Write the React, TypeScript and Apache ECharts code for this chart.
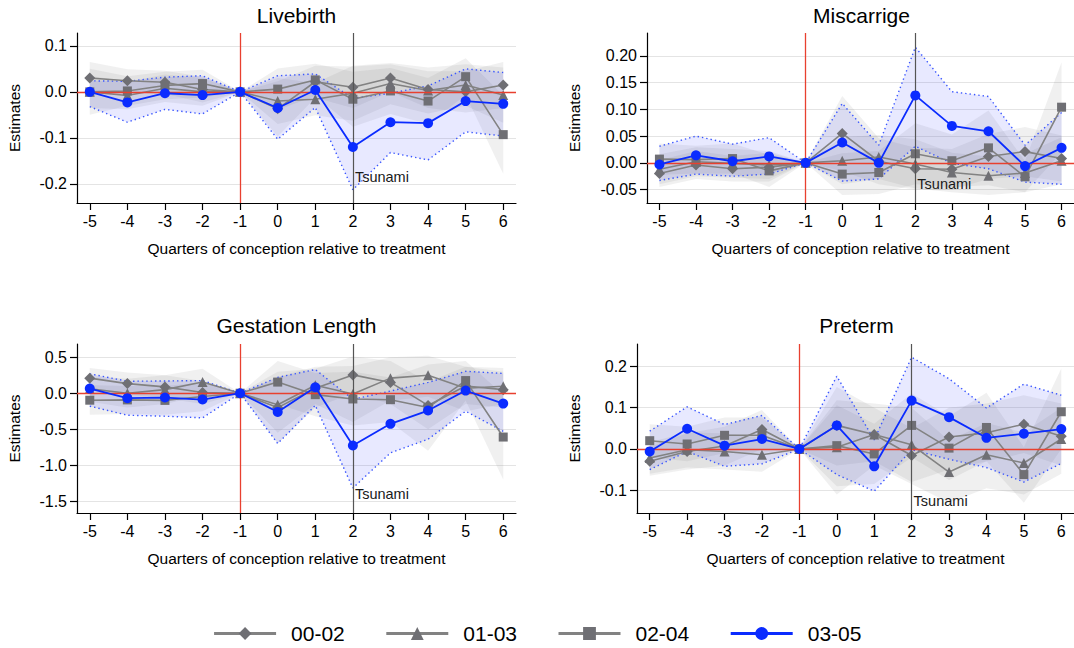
import React, { useEffect, useRef } from 'react';
import * as echarts from 'echarts';

const FONT = '"Liberation Sans", Arial, Helvetica, sans-serif';

const quarters = [-5, -4, -3, -2, -1, 0, 1, 2, 3, 4, 5, 6];
const seriesNames = ['00-02', '01-03', '02-04', '03-05'];
const panelTitles = ['Livebirth', 'Miscarrige', 'Gestation Length', 'Preterm'];
const xAxisTitle = 'Quarters of conception relative to treatment';
const yAxisTitle = 'Estimates';
const annotText = 'Tsunami';

// y tick labels per panel
const lbTicks = [-0.2, -0.1, 0, 0.1];
const mcTicks = [-0.05, 0, 0.05, 0.1, 0.15, 0.2];
const glTicks = [-1.5, -1.0, -0.5, 0, 0.5];
const ptTicks = [-0.1, 0, 0.1, 0.2];

// y position of the "Tsunami" note per panel
const tsunamiY = [-0.186, -0.0386, -1.40, -0.125];

// ---------- Livebirth ----------
const lbEst0002 = [0.030, 0.024, 0.021, 0.005, 0, -0.037, 0.022, 0.010, 0.030, 0.005, 0.000, 0.015];
const lbLo0002 = [-0.005, -0.001, -0.004, -0.023, 0, -0.097, -0.013, -0.035, 0.000, -0.035, -0.045, -0.035];
const lbHi0002 = [0.065, 0.049, 0.046, 0.033, 0, 0.023, 0.057, 0.055, 0.060, 0.045, 0.045, 0.065];
const lbEst0103 = [0.000, -0.008, 0.008, 0.000, 0, -0.020, -0.016, -0.003, 0.018, 0.003, 0.015, -0.007];
const lbLo0103 = [-0.035, -0.038, -0.022, -0.030, 0, -0.070, -0.051, -0.063, -0.027, -0.047, -0.030, -0.067];
const lbHi0103 = [0.035, 0.022, 0.038, 0.030, 0, 0.030, 0.019, 0.057, 0.063, 0.053, 0.060, 0.053];
const lbEst0204 = [0.000, 0.002, 0.014, 0.018, 0, 0.006, 0.026, -0.016, 0.002, -0.020, 0.033, -0.093];
const lbLo0204 = [-0.050, -0.030, -0.016, -0.012, 0, -0.039, -0.009, -0.076, -0.048, -0.070, -0.007, -0.178];
const lbHi0204 = [0.050, 0.034, 0.044, 0.048, 0, 0.051, 0.061, 0.044, 0.052, 0.030, 0.073, -0.008];
const lbEst0305 = [0.000, -0.023, -0.003, -0.007, 0, -0.035, 0.004, -0.120, -0.066, -0.068, -0.020, -0.026];
const lbLo0305 = [-0.032, -0.066, -0.038, -0.048, 0, -0.103, -0.034, -0.213, -0.132, -0.148, -0.087, -0.096];
const lbHi0305 = [0.024, 0.023, 0.032, 0.035, 0, 0.035, 0.039, -0.014, -0.003, 0.013, 0.050, 0.042];

// ---------- Miscarrige ----------
const mcEst0002 = [-0.020, -0.004, -0.011, -0.008, 0, 0.055, 0.003, -0.011, -0.012, 0.012, 0.021, 0.008];
const mcLo0002 = [-0.045, -0.030, -0.035, -0.035, 0, -0.015, -0.040, -0.050, -0.050, -0.030, -0.025, -0.035];
const mcHi0002 = [0.005, 0.022, 0.013, 0.019, 0, 0.125, 0.046, 0.028, 0.026, 0.054, 0.067, 0.051];
const mcEst0103 = [-0.012, 0.002, -0.001, -0.004, 0, 0.004, 0.011, -0.002, -0.018, -0.024, -0.019, 0.004];
const mcLo0103 = [-0.040, -0.025, -0.028, -0.030, 0, -0.040, -0.030, -0.048, -0.055, -0.060, -0.055, -0.040];
const mcHi0103 = [0.016, 0.029, 0.026, 0.022, 0, 0.048, 0.052, 0.044, 0.019, 0.012, 0.017, 0.048];
const mcEst0204 = [0.007, 0.006, 0.008, -0.015, 0, -0.021, -0.018, 0.017, 0.004, 0.028, -0.026, 0.104];
const mcLo0204 = [-0.022, -0.020, -0.020, -0.045, 0, -0.060, -0.058, -0.040, -0.045, -0.042, -0.055, 0.020];
const mcHi0204 = [0.036, 0.032, 0.036, 0.015, 0, 0.018, 0.022, 0.074, 0.053, 0.098, 0.003, 0.188];
const mcEst0305 = [-0.003, 0.014, 0.003, 0.012, 0, 0.038, 0.000, 0.126, 0.069, 0.059, -0.006, 0.028];
const mcLo0305 = [-0.033, -0.021, -0.025, -0.021, 0, -0.034, -0.030, 0.031, -0.001, -0.011, -0.036, -0.040];
const mcHi0305 = [0.031, 0.050, 0.035, 0.047, 0, 0.111, 0.033, 0.216, 0.133, 0.124, 0.033, 0.094];

// ---------- Gestation Length ----------
const glEst0002 = [0.210, 0.134, 0.088, 0.010, 0, -0.200, 0.070, 0.255, 0.150, -0.170, 0.100, 0.050];
const glLo0002 = [0.070, -0.020, -0.070, -0.150, 0, -0.700, -0.200, 0.000, -0.150, -0.500, -0.150, -0.200];
const glHi0002 = [0.350, 0.290, 0.250, 0.170, 0, 0.300, 0.340, 0.510, 0.450, 0.160, 0.370, 0.300];
const glEst0103 = [0.060, 0.000, 0.050, 0.155, 0, -0.160, 0.110, -0.010, 0.210, 0.250, 0.070, 0.097];
const glLo0103 = [-0.120, -0.200, -0.150, -0.030, 0, -0.550, -0.150, -0.400, -0.100, -0.050, -0.250, -0.150];
const glHi0103 = [0.240, 0.200, 0.250, 0.340, 0, 0.230, 0.370, 0.380, 0.500, 0.520, 0.370, 0.350];
const glEst0204 = [-0.097, -0.093, -0.100, -0.045, 0, 0.155, -0.020, -0.080, -0.090, -0.200, 0.176, -0.610];
const glLo0204 = [-0.300, -0.290, -0.300, -0.250, 0, -0.150, -0.320, -0.450, -0.400, -0.800, -0.100, -1.200];
const glHi0204 = [0.110, 0.100, 0.100, 0.150, 0, 0.450, 0.280, 0.300, 0.220, 0.400, 0.450, -0.020];
const glEst0305 = [0.065, -0.069, -0.060, -0.088, 0, -0.260, 0.083, -0.727, -0.426, -0.241, 0.037, -0.144];
const glLo0305 = [-0.180, -0.306, -0.320, -0.343, 0, -0.700, -0.170, -1.320, -0.830, -0.640, -0.250, -0.530];
const glHi0305 = [0.270, 0.167, 0.170, 0.176, 0, 0.220, 0.330, -0.085, 0.030, 0.150, 0.305, 0.275];

// ---------- Preterm ----------
const ptEst0002 = [-0.030, -0.006, 0.007, 0.047, 0, 0.057, 0.035, -0.016, 0.029, 0.039, 0.060, 0.031];
const ptLo0002 = [-0.065, -0.050, -0.040, 0.000, 0, -0.040, -0.030, -0.080, -0.050, -0.030, -0.010, -0.040];
const ptHi0002 = [0.005, 0.038, 0.054, 0.094, 0, 0.150, 0.100, 0.050, 0.100, 0.110, 0.130, 0.110];
const ptEst0103 = [-0.022, -0.002, -0.006, -0.014, 0, 0.004, 0.035, 0.010, -0.056, -0.014, -0.034, 0.024];
const ptLo0103 = [-0.060, -0.045, -0.050, -0.055, 0, -0.110, -0.040, -0.085, -0.130, -0.095, -0.110, -0.060];
const ptHi0103 = [0.016, 0.040, 0.038, 0.027, 0, 0.118, 0.110, 0.100, 0.020, 0.063, 0.040, 0.100];
const ptEst0204 = [0.020, 0.012, 0.033, 0.033, 0, 0.008, -0.012, 0.057, 0.002, 0.052, -0.062, 0.090];
const ptLo0204 = [-0.020, -0.030, -0.010, -0.010, 0, -0.090, -0.085, -0.020, -0.075, -0.030, -0.130, 0.000];
const ptHi0204 = [0.060, 0.054, 0.076, 0.076, 0, 0.106, 0.061, 0.134, 0.079, 0.136, 0.004, 0.195];
const ptEst0305 = [-0.006, 0.049, 0.008, 0.024, 0, 0.057, -0.042, 0.117, 0.077, 0.027, 0.037, 0.048];
const ptLo0305 = [-0.050, -0.006, -0.042, -0.036, 0, -0.062, -0.102, -0.002, -0.025, -0.045, -0.080, -0.035];
const ptHi0305 = [0.043, 0.102, 0.059, 0.081, 0, 0.176, 0.022, 0.222, 0.170, 0.099, 0.157, 0.130];

const RED = '#e8402f';
const GREY_LINE = '#828282';
const GREY_MARK = '#6f6f74';
const BLUE = '#0a2bff';
const BLUE_DOT = '#3a56ff';
const GREY_BAND = 'rgba(120,120,120,0.11)';
const BLUE_BAND = 'rgba(30,40,255,0.10)';
const X_MIN = -5.34;
const X_MAX = 6.34;
const TICK_FS = 16;
const NAME_FS = 15.5;

const panels = [
  {
    title: panelTitles[0], ticks: lbTicks, dec: 1, yMin: -0.2417, yMax: 0.128,
    est: [lbEst0002, lbEst0103, lbEst0204, lbEst0305],
    lo: [lbLo0002, lbLo0103, lbLo0204, lbLo0305],
    hi: [lbHi0002, lbHi0103, lbHi0204, lbHi0305],
    left: 77, right: 558, top: 33, bottom: 445, yNameGap: 55, titleX: 296.5, titleY: 15,
  },
  {
    title: panelTitles[1], ticks: mcTicks, dec: 2, yMin: -0.075, yMax: 0.2426,
    est: [mcEst0002, mcEst0103, mcEst0204, mcEst0305],
    lo: [mcLo0002, mcLo0103, mcLo0204, mcLo0305],
    hi: [mcHi0002, mcHi0103, mcHi0204, mcHi0305],
    left: 647, right: -2, top: 33, bottom: 445, yNameGap: 65, titleX: 861.5, titleY: 15,
  },
  {
    title: panelTitles[2], ticks: glTicks, dec: 1, yMin: -1.667, yMax: 0.685,
    est: [glEst0002, glEst0103, glEst0204, glEst0305],
    lo: [glLo0002, glLo0103, glLo0204, glLo0305],
    hi: [glHi0002, glHi0103, glHi0204, glHi0305],
    left: 77, right: 558, top: 344, bottom: 135, yNameGap: 55, titleX: 296.5, titleY: 325,
  },
  {
    title: panelTitles[3], ticks: ptTicks, dec: 1, yMin: -0.155, yMax: 0.254,
    est: [ptEst0002, ptEst0103, ptEst0204, ptEst0305],
    lo: [ptLo0002, ptLo0103, ptLo0204, ptLo0305],
    hi: [ptHi0002, ptHi0103, ptHi0204, ptHi0305],
    left: 637, right: -2, top: 344, bottom: 135, yNameGap: 55, titleX: 856.5, titleY: 325,
  },
];

const symbols = ['diamond', 'triangle', 'rect', 'circle'];
const symbolSizes = [11, 10, 9, 10];

function buildOption(): any {
  const grid: any[] = [];
  const xAxis: any[] = [];
  const yAxis: any[] = [];
  const series: any[] = [];
  const graphic: any[] = [];

  panels.forEach((p, i) => {
    grid.push({ left: p.left, right: p.right, top: p.top, bottom: p.bottom, containLabel: false });
    xAxis.push({
      type: 'value', gridIndex: i, min: X_MIN, max: X_MAX,
      axisLine: { show: true, onZero: false, lineStyle: { color: '#000', width: 1.2 } },
      axisTick: { show: true, length: 7, customValues: quarters, lineStyle: { color: '#000', width: 1.2 } },
      axisLabel: {
        customValues: quarters, fontSize: TICK_FS, color: '#000', margin: 10, fontFamily: FONT,
        formatter: (v: number) => String(v),
      },
      splitLine: { show: false },
      name: xAxisTitle, nameLocation: 'middle', nameGap: 37,
      nameTextStyle: { fontSize: NAME_FS, color: '#000', fontFamily: FONT },
    });
    yAxis.push({
      type: 'value', gridIndex: i, min: p.yMin, max: p.yMax,
      axisLine: { show: true, onZero: false, lineStyle: { color: '#000', width: 1.2 } },
      axisTick: { show: true, length: 7, customValues: p.ticks, lineStyle: { color: '#000', width: 1.2 } },
      axisLabel: {
        customValues: p.ticks, fontSize: TICK_FS, color: '#000', margin: 10, fontFamily: FONT,
        formatter: (v: number) => v.toFixed(p.dec),
      },
      splitLine: { show: true, lineStyle: { color: '#e4e4e4', width: 1 } },
      name: yAxisTitle, nameLocation: 'middle', nameGap: p.yNameGap, nameRotate: 90,
      nameTextStyle: { fontSize: NAME_FS, color: '#000', fontFamily: FONT },
    });

    // CI bands
    for (let s = 0; s < 4; s++) {
      const lo = p.lo[s];
      const hi = p.hi[s];
      const fill = s === 3 ? BLUE_BAND : GREY_BAND;
      series.push({
        type: 'custom', xAxisIndex: i, yAxisIndex: i, z: 1, silent: true,
        data: [[quarters[0], lo[0]]],
        renderItem: (_params: any, api: any) => {
          const pts: number[][] = [];
          for (let k = 0; k < quarters.length; k++) pts.push(api.coord([quarters[k], hi[k]]));
          for (let k = quarters.length - 1; k >= 0; k--) pts.push(api.coord([quarters[k], lo[k]]));
          return { type: 'polygon', shape: { points: pts }, style: { fill, stroke: 'none' } };
        },
      });
    }

    // reference lines and note
    series.push({
      type: 'line', xAxisIndex: i, yAxisIndex: i, z: 2, silent: true,
      data: [], showSymbol: false,
      markLine: {
        silent: true, symbol: ['none', 'none'], label: { show: false },
        data: [
          { yAxis: 0, lineStyle: { color: RED, width: 1.3, type: 'solid' } },
          { xAxis: -1, lineStyle: { color: RED, width: 1.3, type: 'solid' } },
          { xAxis: 2, lineStyle: { color: '#555', width: 1.2, type: 'solid' } },
        ],
      },
      markPoint: {
        symbol: 'circle', symbolSize: 0, silent: true,
        data: [{
          coord: [2, tsunamiY[i]],
          label: {
            show: true, position: 'right', distance: 2, formatter: annotText,
            fontSize: 14.5, color: '#1a1a1a', fontFamily: FONT,
          },
        }],
      },
    });

    // blue dotted CI bounds
    [p.lo[3], p.hi[3]].forEach((arr) => {
      series.push({
        type: 'line', xAxisIndex: i, yAxisIndex: i, z: 3, silent: true,
        data: quarters.map((q, k) => [q, arr[k]]),
        showSymbol: false, symbol: 'none',
        lineStyle: { color: BLUE_DOT, width: 1.4, type: [1.4, 3] },
      });
    });

    // estimate lines
    for (let s = 0; s < 4; s++) {
      const isBlue = s === 3;
      series.push({
        name: seriesNames[s], type: 'line', xAxisIndex: i, yAxisIndex: i, z: isBlue ? 5 : 4,
        data: quarters.map((q, k) => [q, p.est[s][k]]),
        symbol: symbols[s], symbolSize: symbolSizes[s], showSymbol: true,
        lineStyle: { color: isBlue ? BLUE : GREY_LINE, width: isBlue ? 1.8 : 1.6 },
        itemStyle: { color: isBlue ? BLUE : GREY_MARK },
      });
    }

    graphic.push({
      type: 'text', x: p.titleX, y: p.titleY,
      style: { text: p.title, fontSize: 21, fill: '#000', fontFamily: FONT, textAlign: 'center', textVerticalAlign: 'middle' },
    });
  });

  return {
    animation: false,
    backgroundColor: '#fff',
    textStyle: { fontFamily: FONT },
    grid, xAxis, yAxis, series, graphic,
    legend: {
      data: seriesNames, left: 'center', top: 618,
      itemWidth: 62, itemHeight: 16, itemGap: 40,
      lineStyle: { width: 3 },
      textStyle: { fontSize: 21, color: '#000', fontFamily: FONT, padding: [0, 0, 0, 10] },
      selectedMode: false,
    },
  };
}

export default function App() {
  const ref = useRef<HTMLDivElement>(null);
  useEffect(() => {
    if (!ref.current) return;
    const chart = echarts.init(ref.current, undefined, { renderer: 'svg' });
    chart.setOption(buildOption());
    return () => chart.dispose();
  }, []);
  return (
    <div
      ref={ref}
      style={{ position: 'fixed', left: 0, top: 0, width: 1074, height: 648, background: '#fff' }}
    />
  );
}
